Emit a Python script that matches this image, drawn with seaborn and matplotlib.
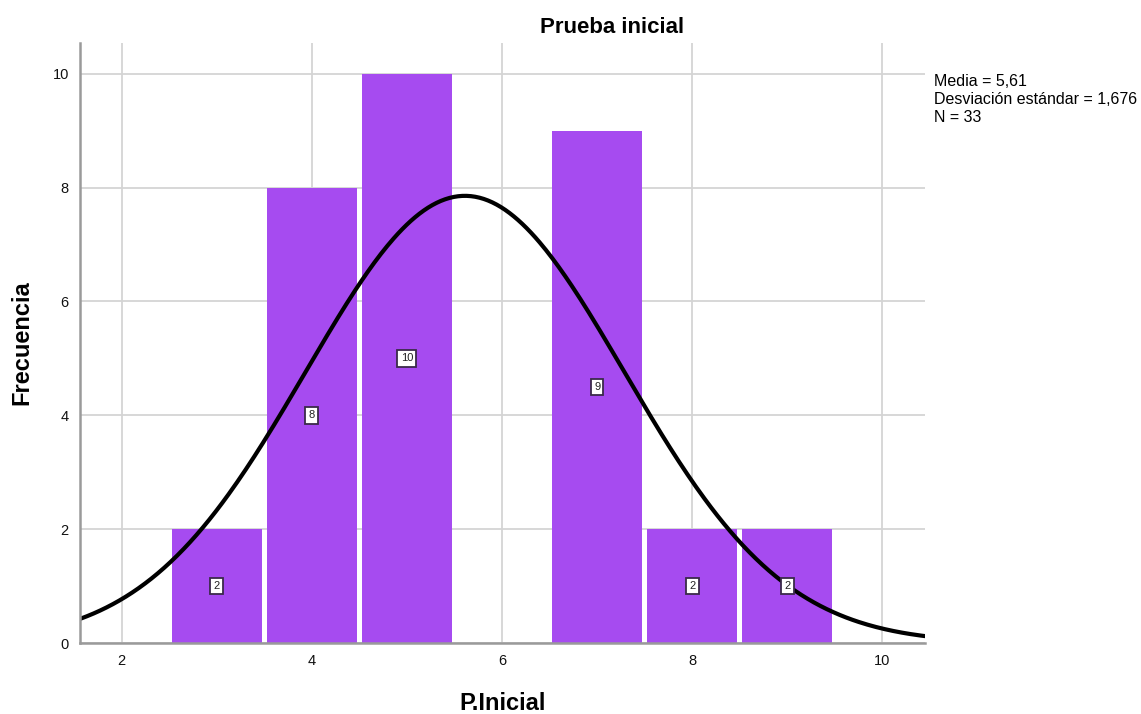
import numpy as np
import pandas as pd
import matplotlib
matplotlib.use('Agg')
import matplotlib.pyplot as plt
import seaborn as sns

sns.set_style('white')
plt.rcParams['font.family'] = ['Liberation Sans', 'DejaVu Sans']
plt.rcParams['text.color'] = 'black'
plt.rcParams['axes.labelcolor'] = 'black'

# puntajes y frecuencias de la prueba inicial
puntajes = [3, 4, 5, 7, 8, 9]
frecuencias = [2, 8, 10, 9, 2, 2]
media = 5.61
desv = 1.676
n = 33

df = pd.DataFrame({'P.Inicial': puntajes, 'Frecuencia': frecuencias})

fig = plt.figure(figsize=(11.41, 7.14), dpi=100)
ax = fig.add_axes([0.0701, 0.0994, 0.7406, 0.8404])

ax.set_axisbelow(True)
ax.grid(True, color='#d4d4d4', lw=1.3)

sns.histplot(data=df, x='P.Inicial', weights='Frecuencia', binwidth=1,
             binrange=(2.5, 9.5), shrink=0.95, color='#a64bf0', alpha=1,
             edgecolor='none', linewidth=0, ax=ax)

# curva normal
xs = np.linspace(1.5, 10.5, 400)
ys = n * 1.0 * np.exp(-0.5 * ((xs - media) / desv) ** 2) / (desv * np.sqrt(2 * np.pi))
sns.lineplot(x=xs, y=ys, color='black', lw=3, ax=ax)

for p, f in zip(puntajes, frecuencias):
    ax.text(p, f / 2, str(f), ha='center', va='center', fontsize=8,
            color='#222222',
            bbox=dict(boxstyle='square,pad=0.3', fc='white', ec='#3a2a4a', lw=1.3))

ax.set_xlim(1.56, 10.45)
ax.set_ylim(0, 10.54)
ax.set_xticks([2, 4, 6, 8, 10])
ax.set_yticks([0, 2, 4, 6, 8, 10])
ax.tick_params(labelsize=10.5, length=0, pad=8, labelcolor='#111111')

for s in ['top', 'right']:
    ax.spines[s].set_visible(False)
for s in ['left', 'bottom']:
    ax.spines[s].set_color('#9a9a9a')
    ax.spines[s].set_linewidth(1.8)

ax.set_xlabel('P.Inicial', fontsize=17, fontweight='bold', labelpad=17)
ax.set_ylabel('Frecuencia', fontsize=17, fontweight='bold', labelpad=14)
fig.text(0.536, 0.961, 'Prueba inicial', ha='center', va='center',
         fontsize=16, fontweight='bold')

fig.text(0.819, 0.896, 'Media = 5,61\nDesviación estándar = 1,676\nN = 33',
         ha='left', va='top', fontsize=11.5, linespacing=1.22)

fig.savefig('out.png', dpi=100)
